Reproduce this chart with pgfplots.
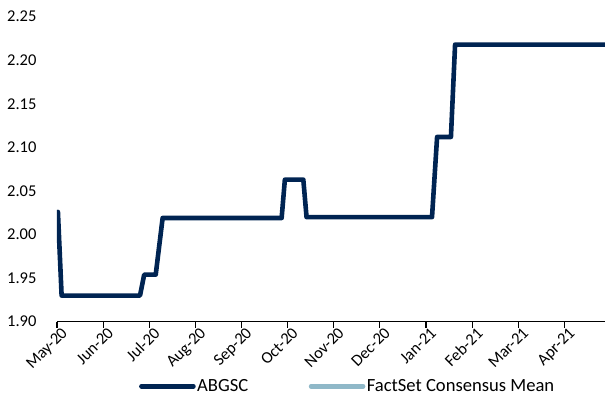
\documentclass[border=0pt]{standalone}
\usepackage{pgfplots}
\pgfplotsset{compat=1.18}
\usepackage{fontspec}
\setmainfont{Carlito}
\usetikzlibrary{calc}
\definecolor{navy}{RGB}{0,36,82}
\definecolor{lblue}{RGB}{143,184,200}
\newcommand{\tickfont}{\fontsize{16.5bp}{19bp}\selectfont}
\newcommand{\legfont}{\fontsize{18.6bp}{21bp}\selectfont}
\begin{document}
\begin{tikzpicture}
\begin{axis}[
  scale only axis, width=548bp, height=305bp,
  xmin=0, xmax=11.88, ymin=1.90, ymax=2.25,
  axis lines*=left, axis line style={-},
  y axis line style={draw=none},
  x axis line style={black, line width=1.4bp},
  ytick={1.90,1.95,2.00,2.05,2.10,2.15,2.20,2.25},
  ytick style={draw=none},
  xtick={0,1,2,3,4,5,6,7,8,9,10,11},
  xticklabels={May-20,Jun-20,Jul-20,Aug-20,Sep-20,Oct-20,Nov-20,Dec-20,Jan-21,Feb-21,Mar-21,Apr-21},
  xtick style={black, line width=1.2bp},
  tick align=outside, major tick length=6bp,
  ticklabel style={font=\tickfont},
  xticklabel style={rotate=45, anchor=north east, inner sep=0.5bp, xshift=4bp, yshift=-1bp},
  yticklabel style={xshift=-11bp},
  /pgf/number format/.cd, fixed, fixed zerofill, precision=2, assume math mode=true,
  /pgfplots/.cd,
  legend columns=2,
  legend style={at={(0.530,0)}, anchor=center, yshift=-64.5bp, draw=none, fill=none,
    font=\legfont, inner sep=0bp, nodes={inner xsep=1.5bp, inner ysep=0bp},
    /tikz/every even column/.append style={column sep=59bp}},
  legend image code/.code={\draw[#1, line cap=round] (0bp,0bp) -- (52bp,0bp);},
]
\addplot[navy, line width=4.6bp, line join=round, line cap=round] coordinates {
 (0.02,2.026) (0.10,1.930) (1.80,1.930) (1.89,1.954) (2.14,1.954) (2.29,2.019)
 (4.87,2.019) (4.94,2.063) (5.34,2.063) (5.41,2.020) (8.13,2.020) (8.24,2.112)
 (8.54,2.112) (8.63,2.218) (11.88,2.218)
};
\addlegendentry{ABGSC}
\addlegendimage{lblue, line width=4.6bp}
\addlegendentry{FactSet Consensus Mean}
\end{axis}
\pgfresetboundingbox
\path ($(current axis.south west)+(-57bp,-74.3bp)$) rectangle ($(current axis.north east)+(0bp,16.7bp)$);
\end{tikzpicture}
\end{document}
